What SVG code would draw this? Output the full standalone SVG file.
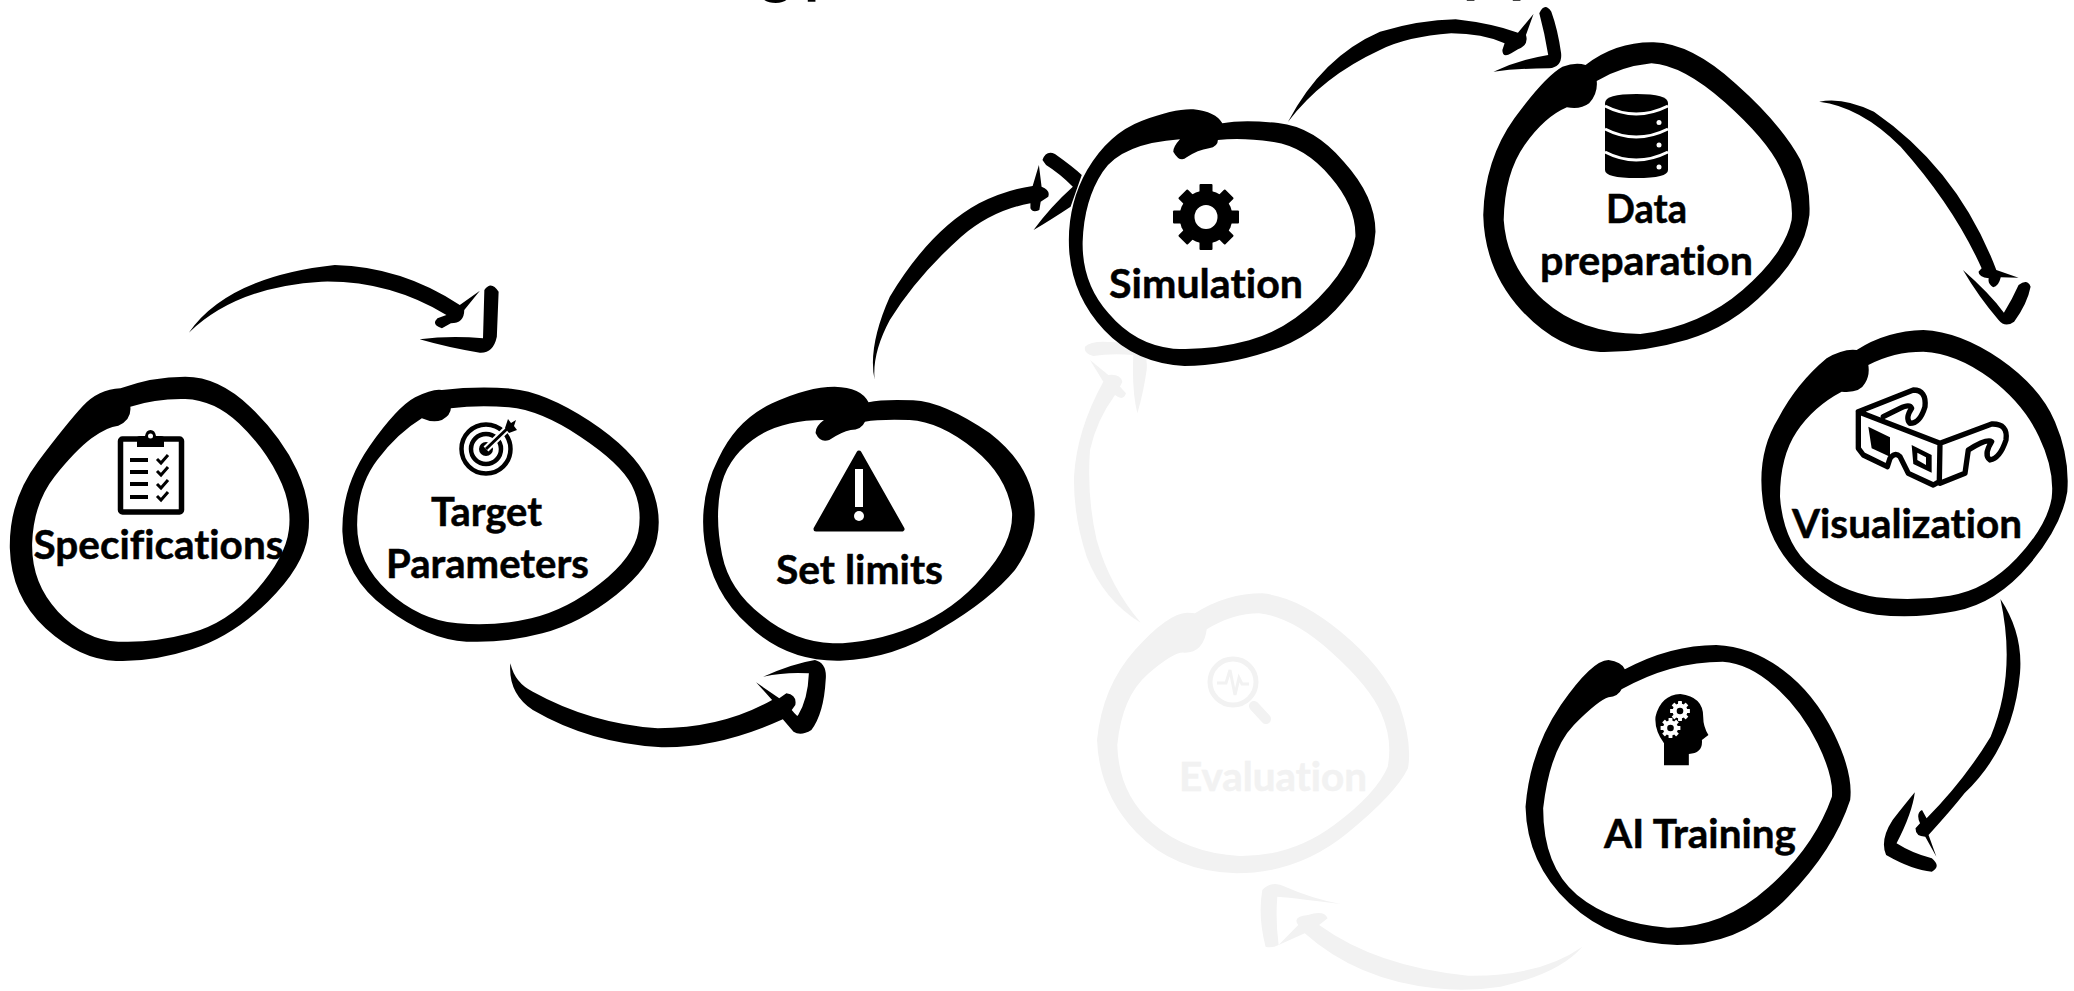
<svg xmlns="http://www.w3.org/2000/svg" width="2074" height="991" viewBox="0 0 2074 991">
<style>
.lb{font-family:"Lato","Liberation Sans",sans-serif;font-weight:700;font-size:41px;fill:#000;stroke:#000;stroke-width:.5px;font-variant-ligatures:none}
.lg{fill:#f2f2f2;stroke:#f2f2f2}
.g{fill:#f2f2f2}
.ink{fill:#000}
.ring{fill-rule:evenodd}
.tt{font-family:"Lato","Liberation Sans",sans-serif;font-weight:700;font-size:62px;fill:#000}
</style>
<defs>
<rect id="tooth" x="-6.500" y="-33" width="13" height="66" rx="1"/>
<g id="gear8"><use href="#tooth"/><use href="#tooth" transform="rotate(45)"/><use href="#tooth" transform="rotate(90)"/><use href="#tooth" transform="rotate(135)"/></g>
</defs>
<rect width="2074" height="991" fill="#fff"/>
<g id="title-cut"><text class="tt" x="760" y="-8">g</text><text class="tt" x="804" y="-8">p</text><text class="tt" x="1463" y="-9">p</text><text class="tt" x="1509" y="-9">p</text></g>
<g id="connectors">
<path id="c1" class="ink" transform="translate(0,260) scale(.4464,.3333)" d="M423 218Q510 50 750 15Q900 20 1030 135L1075 92L1040 150Q1040 190 1010 190L990 205Q965 195 980 175L1000 165Q870 60 720 65Q530 80 423 218ZM1085 90Q1100 60 1117 95L1113 230Q1105 280 1075 278Q1010 265 940 238Q1010 225 1082 235Z"/>
<path id="c2" class="ink" transform="translate(490,370) scale(.3571,.3333)" d="M57 880Q70 940 120 965Q280 1060 470 1075Q650 1075 790 990L745 937L810 985L830 970Q860 975 855 1005L845 1020Q860 1040 862 1037Q890 990 893 910Q830 905 765 920Q850 880 910 870Q945 880 940 930Q935 1030 900 1080Q870 1100 850 1085L820 1048Q640 1135 480 1132Q280 1120 120 1020Q50 970 57 880Z"/>
<path id="c3" class="ink" transform="translate(680,0) scale(.4464,.3333)" d="M436 1140Q420 1040 470 890Q560 690 670 610Q730 570 790 558L804 495L810 560Q830 570 825 590L808 605L805 630Q790 640 785 625L785 610Q700 630 630 710Q530 830 470 960Q430 1060 436 1140ZM812 480Q820 450 840 462Q880 500 900 525L875 620Q830 660 792 690Q830 620 880 560Q850 520 820 495Z"/>
<path id="c4" class="ink" transform="translate(1380,0) scale(.445,.3333)" d="M-207 366Q-130 170 0 95Q90 60 170 58Q250 70 310 98L345 42L328 105Q335 135 310 148L295 160Q275 175 275 150L280 130Q230 100 160 100Q60 110 0 150Q-130 230 -207 366ZM358 40Q370 5 385 35Q400 90 407 160Q410 200 380 205Q310 205 255 215Q310 180 378 165Q370 100 358 40Z"/>
<path id="c5" class="ink" transform="translate(1380,0) scale(.445,.3333)" d="M987 305Q1040 290 1110 335Q1300 510 1385 810L1435 833L1395 832Q1390 860 1378 862Q1365 850 1368 835Q1345 830 1345 815L1352 805Q1290 620 1170 440Q1080 320 987 305ZM1310 810Q1370 880 1402 938Q1420 900 1435 855Q1455 835 1462 860Q1455 910 1425 965Q1405 985 1390 960Q1345 890 1310 810Z"/>
<path id="c6" class="ink" transform="translate(1050,580) scale(.6532,.3333)" d="M1455 57Q1490 160 1485 280Q1475 500 1400 640Q1380 690 1345 765L1357 830L1340 770Q1325 770 1325 745L1332 730Q1325 700 1335 690L1342 715Q1400 600 1440 470Q1480 280 1455 57ZM1324 637Q1320 700 1296 790Q1320 820 1350 835Q1365 860 1350 875Q1320 870 1280 825Q1270 780 1290 720Q1310 670 1324 637Z"/>
<path id="c7" class="g" transform="translate(1050,580) scale(.6532,.3333)" d="M815 1100Q780 1180 690 1220Q640 1235 590 1225Q470 1200 390 1060L350 1095L380 1035Q370 1010 395 1005Q420 990 425 1015L412 1035Q500 1160 640 1187Q750 1190 815 1100ZM445 972Q380 955 348 950Q345 1020 350 1095Q340 1105 330 1100Q318 1010 325 930Q340 900 360 920Q400 955 445 972Z"/>
<path id="c8" class="g" transform="translate(1060,330) scale(.3333)" d="M242 878Q130 810 80 680Q40 560 42 440Q50 300 130 155L90 90L145 135Q180 130 187 155L180 170L198 190Q190 215 165 195Q110 270 90 360Q80 500 110 630Q150 770 242 878ZM232 250Q215 180 220 75Q150 70 100 78Q70 70 75 50Q90 35 130 35L230 40Q265 60 260 120Q250 190 232 250Z"/>
</g>
<g id="node-specifications">
<path class="ink ring" transform="translate(0,260) scale(.4464,.3333)" d="M270 385Q340 350 415 350Q490 350 560 440Q630 530 665 630Q700 730 690 825Q680 920 600 1025Q520 1130 430 1168Q340 1207 260 1203Q180 1200 102 1105Q25 1010 22 865Q20 720 85 605Q150 490 185 439Q220 388 270 385ZM292 440Q350 415 415 417Q480 420 535 490Q590 560 622 645Q655 730 647 810Q640 890 575 990Q510 1090 425 1120Q340 1150 265 1145Q190 1140 130 1055Q70 970 72 850Q75 730 122 650Q170 570 205 535Q240 500 265 497Q295 480 292 440Z"/>
<rect x="120.500" y="439" width="61" height="73" rx="2" fill="none" stroke="#000" stroke-width="5.500"/>
<path class="ink" d="M137 447V438Q137 436 140 436H145Q146 430 150.500 430Q155 430 156 436H161Q164 436 164 438V447Z"/>
<circle cx="150.500" cy="436" r="2.500" fill="#fff"/>
<path class="ink" d="M130 458h18v4h-18zM130 470h18v4h-18zM130 482h18v4h-18zM130 495h18v4h-18z"/>
<path fill="none" stroke="#000" stroke-width="3" d="M157 459l4 4 7-8M157 471l4 4 7-8M157 484l4 4 7-8M157 496l4 4 7-8"/>
<text class="lb" x="33.500" y="559" textLength="250" lengthAdjust="spacingAndGlyphs">Specifications</text>
</g>
<g id="node-target-parameters">
<path class="ink ring" transform="translate(0,260) scale(.4464,.3333)" d="M990 390Q1070 378 1145 386Q1220 395 1320 482Q1420 570 1452 660Q1485 750 1472 835Q1460 920 1380 1005Q1300 1090 1215 1120Q1130 1150 1045 1145Q960 1140 865 1045Q770 950 767 815Q765 680 827 560Q890 440 930 412Q970 385 990 390ZM1010 445Q1070 435 1140 442Q1210 450 1300 530Q1390 610 1415 675Q1440 740 1430 815Q1420 890 1345 970Q1270 1050 1190 1075Q1110 1100 1025 1090Q940 1080 870 995Q800 910 800 795Q800 680 845 600Q890 520 945 475Q970 490 990 480Q1010 465 1010 445Z"/>
<g fill="none" stroke="#000" stroke-width="4.500"><circle cx="486" cy="449" r="24.500"/><circle cx="486" cy="449" r="15"/></g>
<circle class="ink" cx="486" cy="449" r="7"/>
<path fill="none" stroke="#fff" stroke-width="7" d="M486 449L512 424"/>
<path fill="none" stroke="#000" stroke-width="3" d="M486 449L510 426"/>
<path class="ink" d="M505 428L508 419L511 423L516 420L514 426L517 430L509 433Z"/>
<text class="lb" x="431" y="526" textLength="111" lengthAdjust="spacingAndGlyphs">Target</text>
<text class="lb" x="386" y="578" textLength="203" lengthAdjust="spacingAndGlyphs">Parameters</text>
</g>
<g id="node-set-limits">
<path class="ink ring" transform="translate(490,370) scale(.3571,.3333)" d="M1060 97Q1100 87 1185 91Q1270 95 1400 190Q1520 290 1525 420Q1530 510 1470 600Q1400 690 1265 775Q1130 868 980 872Q830 875 725 767Q620 670 600 510Q585 380 640 265Q690 150 790 100Q890 50 965 50Q1040 52 1060 97ZM1050 155Q1090 147 1175 150Q1260 155 1355 237Q1450 320 1462 430Q1465 520 1380 620Q1300 720 1185 770Q1070 820 960 820Q850 815 760 735Q670 660 650 555Q630 450 645 360Q660 270 735 210Q810 150 935 150Q910 170 912 190Q925 220 950 210Q985 185 1010 180Q1040 180 1050 155Z"/>
<path class="ink" stroke="#000" stroke-width="5" stroke-linejoin="round" d="M859 453L902 529H816Z"/>
<rect x="855" y="469" width="8" height="38" fill="#fff"/>
<circle cx="859" cy="516" r="5" fill="#fff"/>
<text class="lb" x="776" y="584" textLength="167" lengthAdjust="spacingAndGlyphs">Set limits</text>
</g>
<g id="node-simulation">
<path class="ink ring" transform="translate(680,0) scale(.4464,.3333)" d="M1215 370Q1260 358 1340 369Q1420 380 1487 485Q1558 590 1558 695Q1555 800 1485 905Q1420 1010 1320 1054Q1220 1098 1130 1098Q1020 1090 950 990Q880 890 872 755Q865 620 912 510Q960 400 1035 362Q1110 325 1150 328Q1200 335 1215 370ZM1205 420Q1260 412 1330 426Q1400 440 1457 530Q1515 620 1513 710Q1500 800 1430 895Q1360 990 1275 1021Q1190 1052 1105 1046Q1020 1035 960 940Q900 850 902 725Q905 600 947 515Q990 430 1120 418Q1105 440 1105 455Q1120 490 1135 472Q1160 450 1185 445Q1205 440 1205 420Z"/>
<g transform="translate(1206,217)" class="ink"><use href="#gear8"/><circle r="26.500"/><ellipse rx="11.500" ry="12" fill="#fff"/></g>
<text class="lb" x="1109" y="298" textLength="194" lengthAdjust="spacingAndGlyphs">Simulation</text>
</g>
<g id="node-data-preparation">
<path class="ink ring" transform="translate(1380,0) scale(.445,.3333)" d="M462 195Q530 125 615 127Q700 130 800 252Q900 370 945 480Q968 560 965 645Q955 760 870 870Q790 980 690 1019Q590 1058 495 1056Q400 1050 317 930Q235 810 232 645Q235 480 302 355Q370 230 410 200Q440 185 462 195ZM487 243Q540 200 610 190Q680 195 775 307Q870 420 900 505Q930 590 925 660Q910 760 815 870Q720 980 585 1002Q450 1000 367 900Q285 800 278 660Q280 520 325 435Q370 350 420 322Q450 330 470 310Q490 280 487 243Z"/>
<path class="ink" d="M1605 103Q1605 94 1636.500 94Q1668 94 1668 103V170Q1668 178 1636.500 178Q1605 178 1605 170Z"/>
<path fill="none" stroke="#fff" stroke-width="3" d="M1605 106Q1636 122 1668 106M1605 129Q1636 145 1668 129M1605 152Q1636 168 1668 152"/>
<g fill="#fff"><circle cx="1659" cy="122.500" r="2.500"/><circle cx="1659" cy="145" r="2.500"/><circle cx="1659" cy="167" r="2.500"/></g>
<text class="lb" x="1606" y="223" textLength="81" lengthAdjust="spacingAndGlyphs">Data</text>
<text class="lb" x="1540" y="275" textLength="213" lengthAdjust="spacingAndGlyphs">preparation</text>
</g>
<g id="node-visualization">
<path class="ink ring" transform="translate(1740,320) scale(.3333)" d="M350 90Q440 32 550 30Q660 35 780 117Q900 200 945 305Q990 410 982 515Q965 620 867 735Q770 850 645 874Q520 898 410 884Q300 870 192 775Q85 680 68 540Q50 400 115 295Q170 190 260 115Q310 85 350 90ZM385 135Q460 95 550 95Q650 100 750 175Q850 250 897 350Q945 450 935 535Q920 620 830 715Q740 810 630 827Q520 845 410 832Q300 815 215 742Q130 670 120 530Q120 410 170 335Q220 260 305 215Q360 220 375 190Q390 165 385 135Z"/>
<g transform="translate(1800,360) scale(.3333)">
<path fill="none" stroke="#000" stroke-width="16" stroke-linejoin="round" stroke-linecap="round" d="M175 155L420 250L418 365L400 375L325 340L300 290Q285 275 270 295L262 320L190 285L175 265ZM175 155L340 90Q380 90 375 140Q360 190 330 190Q315 175 335 145Q330 130 300 145L250 170M420 250L575 192Q625 190 618 240Q600 295 570 300Q550 285 575 245Q560 235 505 270L495 340L420 370"/>
<path class="ink" d="M205 200L270 232V290L215 265Z"/>
<path class="ink ring" d="M335 255L395 285V338L340 312ZM352 278V300L378 315V292Z"/>
</g>
<text class="lb" x="1792" y="538" textLength="230" lengthAdjust="spacingAndGlyphs">Visualization</text>
</g>
<g id="node-ai-training">
<path class="ink ring" transform="translate(1050,580) scale(.6532,.3333)" d="M880 268Q950 195 1020 195Q1075 200 1122 270Q1170 340 1200 460Q1230 580 1225 660Q1200 810 1130 950Q1060 1095 960 1095Q860 1090 795 970Q730 850 728 680Q735 510 782 375Q830 240 855 240Q875 245 880 268ZM875 328Q950 245 1030 245Q1070 250 1110 320Q1150 390 1175 490Q1200 590 1197 650Q1170 800 1100 922Q1030 1045 945 1043Q860 1030 807 945Q755 860 755 685Q765 510 802 435Q840 360 855 352Q870 350 875 328Z"/>
<path class="ink" transform="translate(1050,580) scale(.6532,.3333)" d="M940 556L940 490Q925 450 927 410Q935 345 965 342Q1000 350 1000 410Q1000 440 1008 465L998 480Q1000 520 978 522L978 556Z"/>
<g transform="translate(1680,711) scale(.3)" fill="#fff"><use href="#gear8"/><circle r="25"/><circle r="11" fill="#000"/></g>
<g transform="translate(1670.500,728) scale(.3)" fill="#fff"><use href="#gear8"/><circle r="25"/><circle r="11" fill="#000"/></g>
<text class="lb" x="1604" y="848" textLength="192" lengthAdjust="spacingAndGlyphs">AI Training</text>
</g>
<g id="node-evaluation">
<path class="g ring" transform="translate(1050,580) scale(.6532,.3333)" d="M222 100Q270 40 325 40Q380 50 445 155Q510 260 535 375Q555 490 548 565Q530 640 455 760Q380 880 285 880Q190 875 132 757Q75 640 72 480Q80 320 130 210Q180 100 210 98Q218 98 222 100ZM240 148Q280 100 320 100Q370 110 430 215Q490 320 507 400Q525 480 517 560Q500 640 435 735Q370 830 290 828Q210 820 157 730Q105 640 103 495Q110 350 150 282Q190 215 205 218Q235 220 240 148Z"/>
<circle cx="1233" cy="682" r="23" fill="none" stroke="#f2f2f2" stroke-width="5"/>
<path fill="none" stroke="#f2f2f2" stroke-width="3" d="M1217 683H1226L1230 670L1235 695L1239 678L1242 684H1249"/>
<path fill="none" stroke="#f2f2f2" stroke-width="10" stroke-linecap="round" d="M1254 706L1266 719"/>
<text class="lb lg" x="1179" y="791" textLength="188" lengthAdjust="spacingAndGlyphs">Evaluation</text>
</g>
</svg>
